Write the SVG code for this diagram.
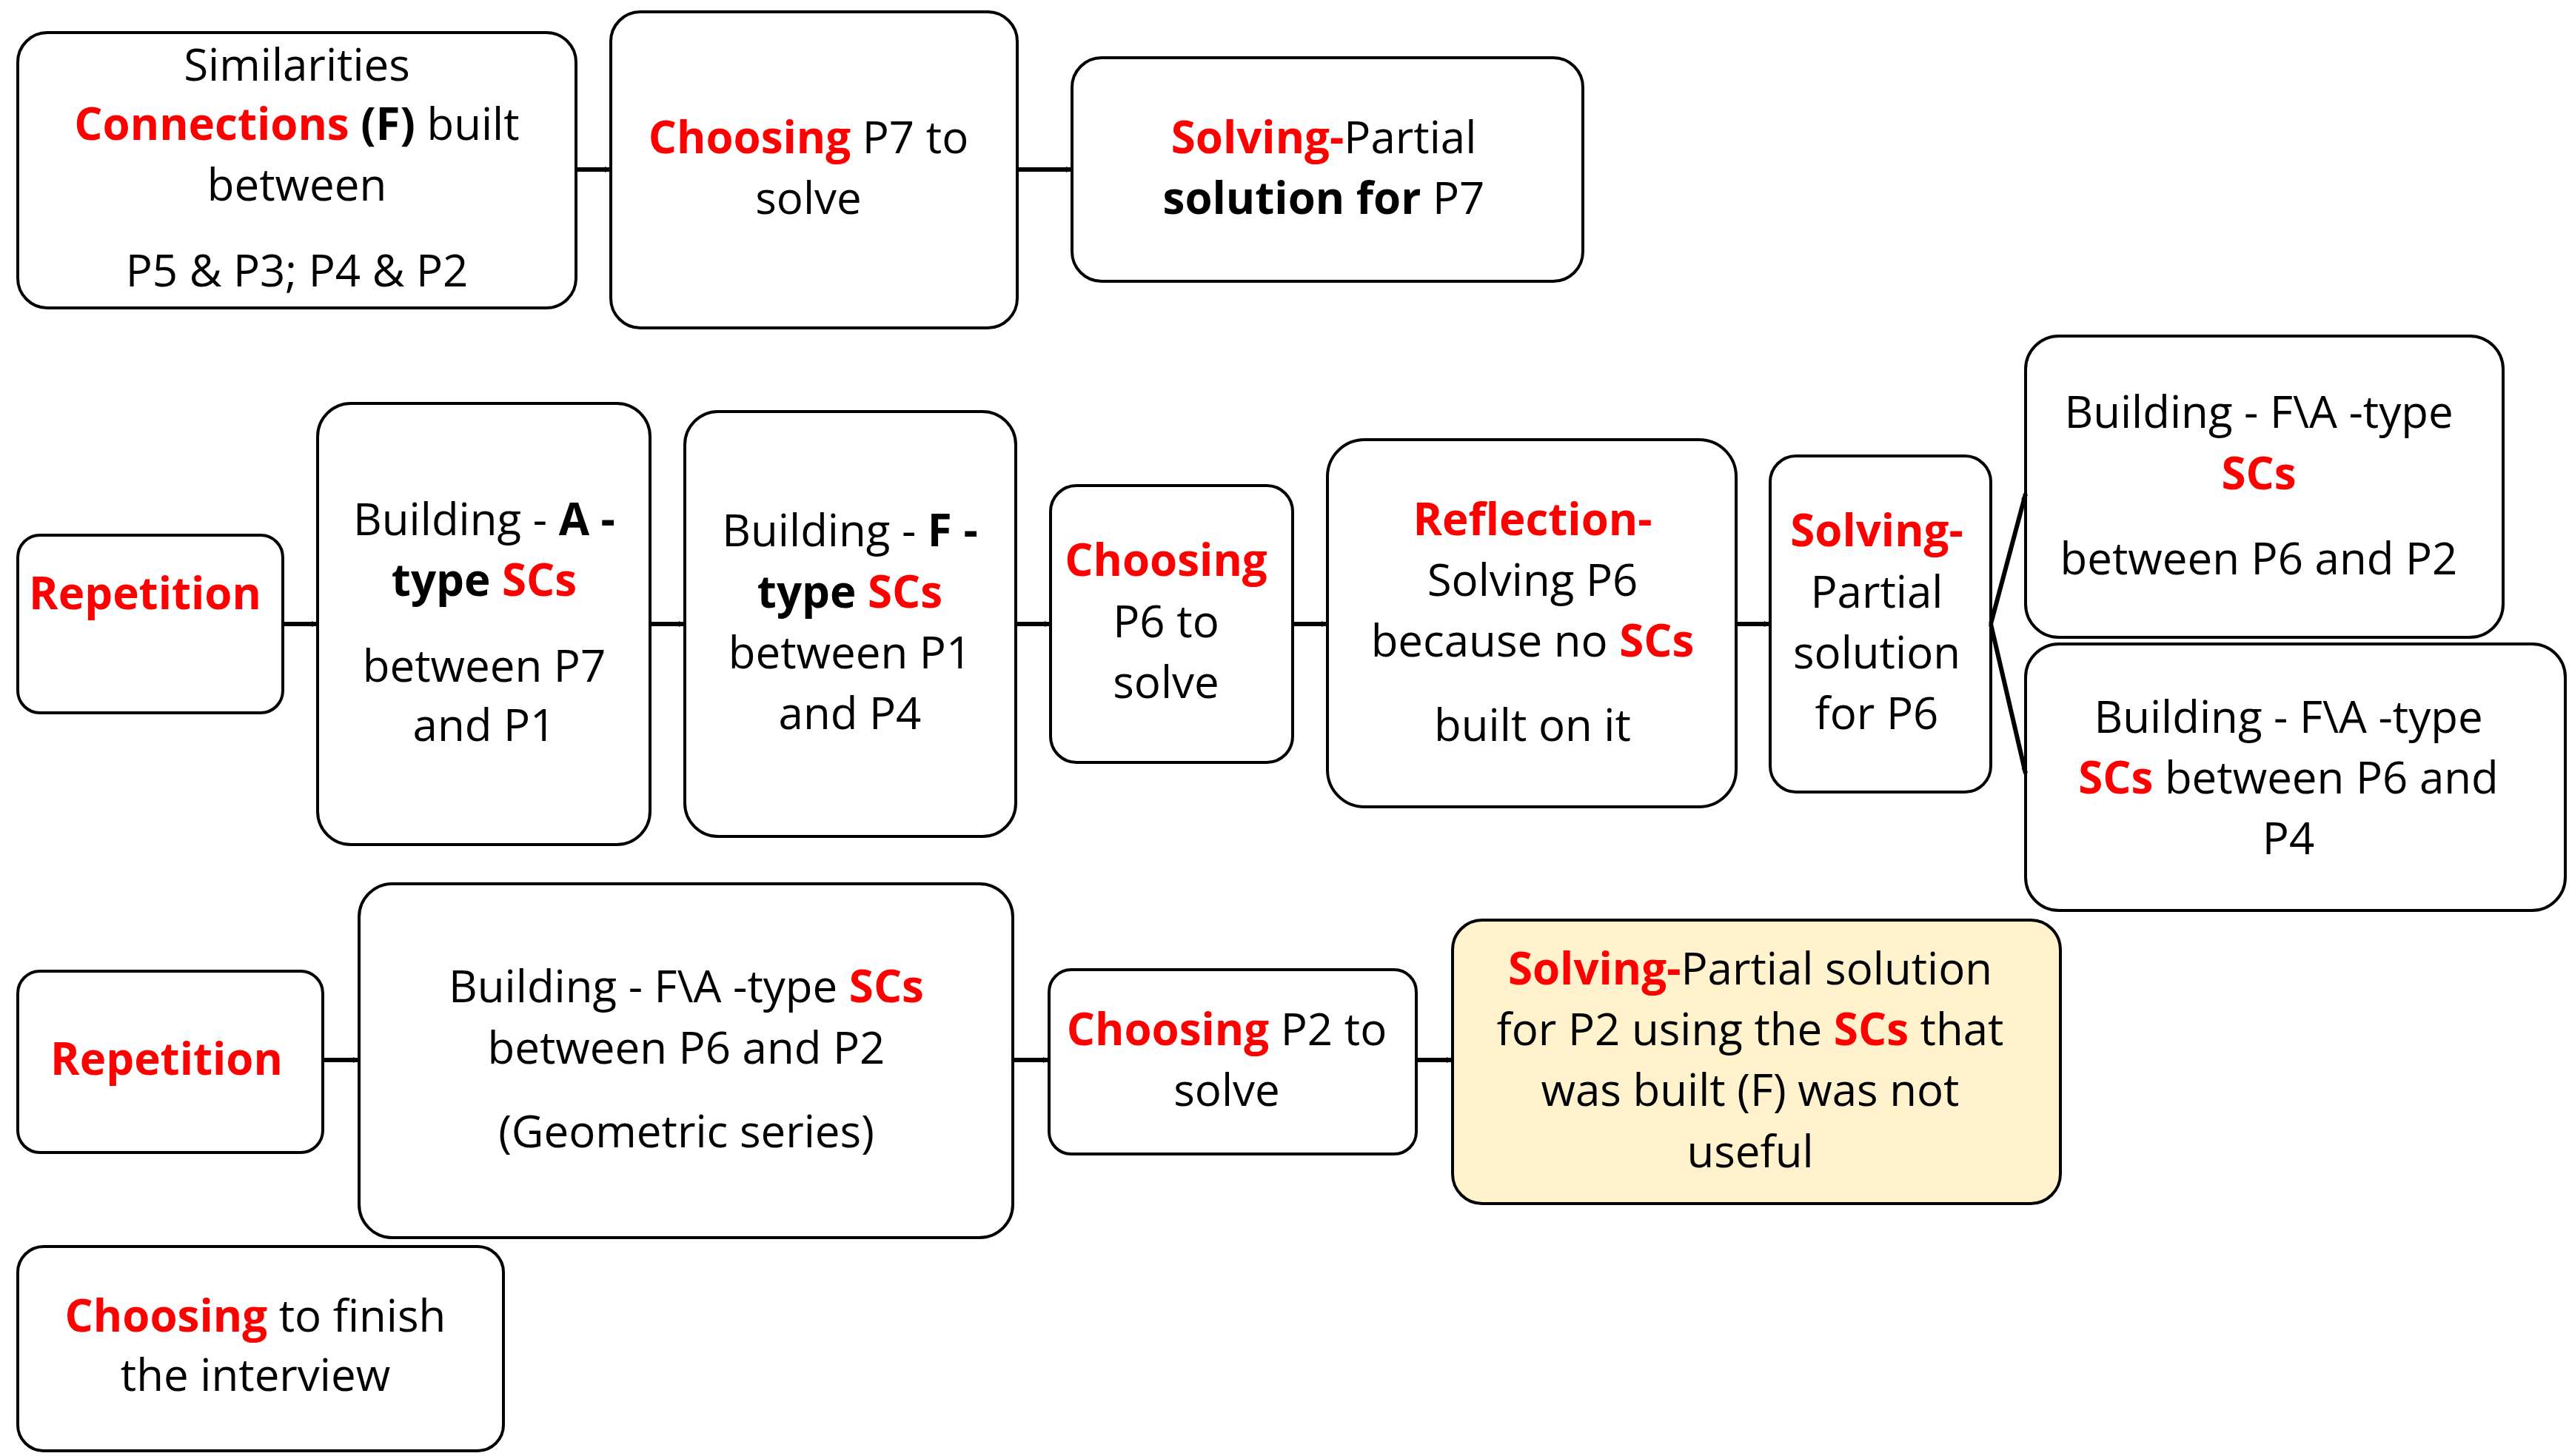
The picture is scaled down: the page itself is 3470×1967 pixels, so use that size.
<svg xmlns="http://www.w3.org/2000/svg" width="3470" height="1967" viewBox="0 0 3470 1967">
<style>
rect{fill:#fff;stroke:#000;stroke-width:4}
text{font-family:"Open Sans","Liberation Sans",sans-serif;font-size:60px;text-anchor:middle;fill:#000}
.r{fill:#f00;font-weight:bold}
.b{font-weight:bold}
.c path{stroke:#000;stroke-width:6;fill:none}
</style>
<defs><marker id="a" markerWidth="8" markerHeight="8" refX="8" refY="4" orient="auto" markerUnits="userSpaceOnUse" viewBox="0 0 8 8"><path d="M0,0L8,4L0,8z" fill="#000"/></marker></defs>
<g id="n1"><rect x="24" y="44" width="754" height="372" rx="40"/>
<text x="401" y="109">Similarities</text>
<text x="401" y="189"><tspan class="r">Connections</tspan> <tspan class="b">(F)</tspan> built</text>
<text x="401" y="271">between</text>
<text x="401" y="387">P5 &amp; P3; P4 &amp; P2</text></g>
<g id="n2"><rect x="825" y="16" width="549" height="427" rx="40"/>
<text x="1092" y="207"><tspan class="r">Choosing</tspan> P7 to</text>
<text x="1092" y="289">solve</text></g>
<g id="n3"><rect x="1448" y="78" width="690" height="302" rx="40"/>
<text x="1788" y="207"><tspan class="r">Solving-</tspan>Partial</text>
<text x="1788" y="289"><tspan class="b">solution for</tspan> P7</text></g>
<g id="n4"><rect x="24" y="723" width="358" height="240" rx="30"/>
<text x="196" y="823" class="r">Repetition</text></g>
<g id="n5"><rect x="429" y="545" width="449" height="596" rx="45"/>
<text x="654" y="723">Building - <tspan class="b">A -</tspan></text>
<text x="654" y="805"><tspan class="b">type</tspan> <tspan class="r">SCs</tspan></text>
<text x="654" y="921">between P7</text>
<text x="654" y="1001">and P1</text></g>
<g id="n6"><rect x="925" y="556" width="447" height="574" rx="45"/>
<text x="1148" y="738">Building - <tspan class="b">F -</tspan></text>
<text x="1148" y="821"><tspan class="b">type</tspan> <tspan class="r">SCs</tspan></text>
<text x="1148" y="903">between P1</text>
<text x="1148" y="985">and P4</text></g>
<g id="n7"><rect x="1419" y="656" width="327" height="374" rx="35"/>
<text x="1575" y="778" class="r">Choosing</text>
<text x="1575" y="861">P6 to</text>
<text x="1575" y="943">solve</text></g>
<g id="n8"><rect x="1793" y="594" width="552" height="496" rx="50"/>
<text x="2070" y="723" class="r">Reflection-</text>
<text x="2070" y="805">Solving P6</text>
<text x="2070" y="887">because no <tspan class="r">SCs</tspan></text>
<text x="2070" y="1001">built on it</text></g>
<g id="n9"><rect x="2391" y="616" width="298" height="454" rx="35"/>
<text x="2535" y="738" class="r">Solving-</text>
<text x="2535" y="821">Partial</text>
<text x="2535" y="903">solution</text>
<text x="2535" y="985">for P6</text></g>
<g id="n10"><rect x="2736" y="454" width="645" height="407" rx="45"/>
<text x="3051" y="578">Building - F\A -type</text>
<text x="3051" y="661" class="r">SCs</text>
<text x="3051" y="776">between P6 and P2</text></g>
<g id="n11"><rect x="2736" y="870" width="729" height="360" rx="45"/>
<text x="3091" y="990">Building - F\A -type</text>
<text x="3091" y="1072"><tspan class="r">SCs</tspan> between P6 and</text>
<text x="3091" y="1154">P4</text></g>
<g id="n12"><rect x="24" y="1312" width="412" height="245" rx="30"/>
<text x="225" y="1452" class="r">Repetition</text></g>
<g id="n13"><rect x="485" y="1194" width="883" height="478" rx="45"/>
<text x="927" y="1354">Building - F\A -type <tspan class="r">SCs</tspan></text>
<text x="927" y="1437">between P6 and P2</text>
<text x="927" y="1550">(Geometric series)</text></g>
<g id="n14"><rect x="1417" y="1310" width="496" height="249" rx="30"/>
<text x="1657" y="1412"><tspan class="r">Choosing</tspan> P2 to</text>
<text x="1657" y="1494">solve</text></g>
<g id="n15"><rect x="1962" y="1243" width="821" height="383" rx="40" style="fill:#FFF2CC"/>
<text x="2364" y="1330"><tspan class="r">Solving-</tspan>Partial solution</text>
<text x="2364" y="1412">for P2 using the <tspan class="r">SCs</tspan> that</text>
<text x="2364" y="1494">was built (F) was not</text>
<text x="2364" y="1577">useful</text></g>
<g id="n16"><rect x="24" y="1684" width="656" height="276" rx="35"/>
<text x="345" y="1799"><tspan class="r">Choosing</tspan> to finish</text>
<text x="345" y="1879">the interview</text></g>
<g class="c">
<path d="M778,229L825,229" marker-end="url(#a)" transform="scale(1)"/>
<path d="M1374,229L1448,229" marker-end="url(#a)"/>
<path d="M382,843L429,843" marker-end="url(#a)"/>
<path d="M878,843L925,843" marker-end="url(#a)"/>
<path d="M1372,843L1419,843" marker-end="url(#a)"/>
<path d="M1746,843L1793,843" marker-end="url(#a)"/>
<path d="M2345,843L2391,843" marker-end="url(#a)"/>
<path d="M2689,843L2736,667" marker-end="url(#a)"/>
<path d="M2689,843L2736,1045" marker-end="url(#a)"/>
<path d="M436,1432L485,1432" marker-end="url(#a)"/>
<path d="M1368,1432L1417,1432" marker-end="url(#a)"/>
<path d="M1913,1432L1962,1432" marker-end="url(#a)"/>
</g>
</svg>
